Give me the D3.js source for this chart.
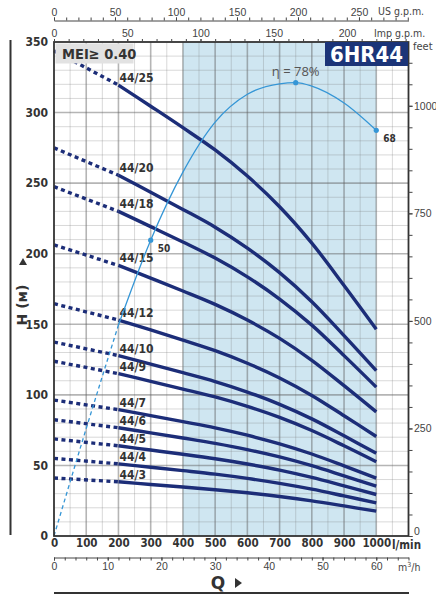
<!DOCTYPE html>
<html>
<head>
<meta charset="utf-8">
<script src="https://cdn.jsdelivr.net/npm/d3@7"></script>
<style>
  body { margin: 0; background: #fff; }
  svg { display: block; font-family: "DejaVu Sans Condensed", "DejaVu Sans", sans-serif; }
</style>
</head>
<body>
<div id="chart"></div>
<script>
// pump curves 6HR44 - H (m) vs Q (l/min)
var flow = [0, 200, 300, 400, 500, 600, 700, 800, 900, 1000];

var models = ["44/25", "44/20", "44/18", "44/15", "44/12", "44/10", "44/9", "44/7", "44/6", "44/5", "44/4", "44/3"];
var h44_25 = [343.8, 319.5, 304.5, 289.3, 273.5, 255.0, 233.3, 207.5, 177.5, 146.5];
var h44_20 = [275.0, 255.6, 243.6, 231.4, 218.8, 204.0, 186.6, 166.0, 142.0, 117.2];
var h44_18 = [247.5, 230.0, 219.2, 208.3, 196.9, 183.6, 167.9, 149.4, 127.8, 105.5];
var h44_15 = [206.3, 191.7, 182.7, 173.6, 164.1, 153.0, 140.0, 124.5, 106.5, 87.9];
var h44_12 = [164.6, 153.0, 146.0, 138.8, 131.3, 122.4, 112.0, 99.6, 85.2, 70.5];
var h44_10 = [137.4, 127.8, 121.8, 115.7, 109.4, 102.0, 93.3, 83.0, 71.0, 58.6];
var h44_9 = [123.8, 115.0, 109.6, 104.1, 98.5, 91.8, 84.0, 74.7, 63.9, 52.6];
var h44_7 = [96.3, 89.5, 85.3, 81.0, 76.6, 71.4, 65.3, 58.1, 49.7, 41.0];
var h44_6 = [82.4, 76.7, 73.1, 69.4, 65.6, 61.2, 56.0, 49.8, 42.6, 35.3];
var h44_5 = [68.8, 63.9, 60.9, 57.9, 54.7, 51.0, 46.7, 41.5, 35.5, 29.4];
var h44_4 = [55.0, 51.1, 48.7, 46.3, 43.8, 40.8, 37.3, 33.2, 28.4, 23.5];
var h44_3 = [41.1, 38.4, 36.5, 34.7, 32.8, 30.6, 28.0, 24.9, 21.3, 17.6];
var heads = [h44_25, h44_20, h44_18, h44_15, h44_12, h44_10, h44_9, h44_7, h44_6, h44_5, h44_4, h44_3];

// efficiency curve (%)
var etaFlow = [0, 100, 200, 300, 400, 500, 600, 700, 750, 800, 900, 1000];
var etaVals = [0, 18.5, 36.3, 50.9, 62.6, 71.2, 76.0, 77.8, 78.0, 77.4, 74.5, 69.8];
var etaMarkFlow = [300, 750, 1000];
var etaMarkText = ["50", "\u03b7 = 78%", "68"];

var hTicks = [0, 50, 100, 150, 200, 250, 300, 350];
var qTicks = [0, 100, 200, 300, 400, 500, 600, 700, 800, 900, 1000];
var feetTicks = [0, 250, 500, 750, 1000];
var usTicks = [0, 50, 100, 150, 200, 250];
var impTicks = [0, 50, 100, 150, 200];
var m3hTicks = [0, 10, 20, 30, 40, 50, 60];

var svgWidth = 436, svgHeight = 600;
var navy = "#1c2d78";
var effBlue = "#3596d6";

var svg = d3.select("#chart").append("svg")
    .attr("width", svgWidth)
    .attr("height", svgHeight);

var x = d3.scaleLinear().domain([0, 1100]).range([54, 408.5]);
var y = d3.scaleLinear().domain([0, 350]).range([536, 42]);

// blue working range
svg.append("rect")
    .attr("x", x(400)).attr("y", y(350))
    .attr("width", x(1000) - x(400)).attr("height", y(0) - y(350))
    .attr("fill", "#cfe6f1");

// grid
var grid = svg.append("g");
grid.selectAll(".vg").data(d3.range(50, 1100, 50)).enter().append("line")
    .attr("x1", d => x(d)).attr("x2", d => x(d))
    .attr("y1", y(0)).attr("y2", y(350))
    .attr("stroke", d => d % 100 == 0 ? "rgba(90,90,90,0.45)" : "rgba(120,120,120,0.28)")
    .attr("stroke-width", d => d % 100 == 0 ? 1.6 : 1);
grid.selectAll(".hg").data(d3.range(10, 350, 10)).enter().append("line")
    .attr("x1", x(0)).attr("x2", x(1100))
    .attr("y1", d => y(d)).attr("y2", d => y(d))
    .attr("stroke", d => d % 50 == 0 ? "rgba(90,90,90,0.45)" : "rgba(120,120,120,0.28)")
    .attr("stroke-width", d => d % 50 == 0 ? 1.6 : 1);

// pump curves
var line = d3.line().x(d => x(d.q)).y(d => y(d.h)).curve(d3.curveCatmullRom);
var curves = models.map(function (m, i) {
    return { name: m, pts: flow.map((q, j) => ({ q: q, h: heads[i][j] })) };
});

var cg = svg.append("g");
curves.forEach(function (c) {
    cg.append("path")
        .attr("d", line(c.pts.slice(0, 2)))
        .attr("fill", "none").attr("stroke", navy)
        .attr("stroke-width", 3.4).attr("stroke-dasharray", "4,3.5");
    cg.append("path")
        .attr("d", line(c.pts.slice(1)))
        .attr("fill", "none").attr("stroke", navy)
        .attr("stroke-width", 3.4);
    cg.append("text")
        .attr("x", x(200) + 1).attr("y", y(c.pts[1].h) - 3)
        .attr("font-size", 12).attr("font-weight", "bold").attr("fill", "#333")
        .text(c.name);
});

// efficiency curve, drawn on its own scale over the H axis
var etaY = d3.scaleLinear().domain([0, 100]).range([y(0), y(411.8)]);
var etaLine = d3.line().x(d => x(d.q)).y(d => etaY(d.e)).curve(d3.curveMonotoneX);
var etaPts = etaFlow.map((q, i) => ({ q: q, e: etaVals[i] }));
svg.append("path")
    .attr("d", etaLine(etaPts.filter(d => d.q <= 200)))
    .attr("fill", "none").attr("stroke", effBlue).attr("stroke-width", 1.3)
    .attr("stroke-dasharray", "4,3");
svg.append("path")
    .attr("d", etaLine(etaPts.filter(d => d.q >= 200)))
    .attr("fill", "none").attr("stroke", effBlue).attr("stroke-width", 1.3);

etaMarkFlow.forEach(function (q, i) {
    var e = etaVals[etaFlow.indexOf(q)];
    svg.append("circle").attr("cx", x(q)).attr("cy", etaY(e)).attr("r", 2.6).attr("fill", effBlue);
    var t = svg.append("text").text(etaMarkText[i]).attr("fill", "#333");
    if (i == 1) {
        t.attr("x", x(q)).attr("y", etaY(e) - 7).attr("text-anchor", "middle")
            .attr("font-size", 13).attr("font-family", "Open Sans, sans-serif").attr("fill", "#555");
    } else {
        t.attr("x", x(q) + 7).attr("y", etaY(e) + 12).attr("font-size", 10).attr("font-weight", "bold");
    }
});

// frame
svg.append("rect")
    .attr("x", x(0)).attr("y", y(350))
    .attr("width", x(1100) - x(0)).attr("height", y(0) - y(350))
    .attr("fill", "none").attr("stroke", "#333").attr("stroke-width", 1.8);

// MEI box + model box
svg.append("rect").attr("x", 55.5).attr("y", 43.5).attr("width", 78).attr("height", 20).attr("fill", "#e2e2e2");
svg.append("text").attr("x", 62).attr("y", 59).attr("font-size", 14.5).attr("font-weight", "bold")
    .attr("fill", "#333").text("MEI\u2265 0.40");
svg.append("rect").attr("x", 325).attr("y", 42).attr("width", 83).attr("height", 24).attr("fill", "#1b3478");
svg.append("text").attr("x", 366.5).attr("y", 62).attr("text-anchor", "middle")
    .attr("font-size", 22).attr("font-weight", "bold")
    .attr("fill", "#fff").text("6HR44");

// left axis (m)
var leftAxis = d3.axisLeft(y).tickValues(hTicks).tickSize(0).tickPadding(6);
var la = svg.append("g").attr("transform", "translate(" + x(0) + ",0)").call(leftAxis);
la.select(".domain").remove();
la.selectAll("text").attr("font-size", 12).attr("font-weight", "bold").attr("fill", "#333")
    .attr("font-family", "DejaVu Sans Condensed, sans-serif");

// bottom axis (l/min)
var bottomAxis = d3.axisBottom(x).tickValues(qTicks).tickSize(0).tickPadding(3).tickFormat(d3.format("d"));
var ba = svg.append("g").attr("transform", "translate(0," + y(0) + ")").call(bottomAxis);
ba.select(".domain").remove();
ba.selectAll("text").attr("font-size", 11.5).attr("font-weight", "bold").attr("fill", "#333")
    .attr("font-family", "DejaVu Sans Condensed, sans-serif");
svg.append("text").attr("x", 392).attr("y", 549).attr("font-size", 11.5).attr("font-weight", "bold")
    .attr("fill", "#333").text("l/min");

// right axis (feet)
var yFt = d3.scaleLinear().domain([0, 350 * 3.28084]).range([536, 42]);
var rightMinor = d3.axisRight(yFt).tickValues(d3.range(0, 1150, 50)).tickSize(4).tickFormat("");
svg.append("g").attr("transform", "translate(" + x(1100) + ",0)").call(rightMinor)
    .call(g => g.select(".domain").remove());
var rightAxis = d3.axisRight(yFt).tickValues(feetTicks).tickSize(4).tickPadding(1.5).tickFormat(d3.format("d"));
var ra = svg.append("g").attr("transform", "translate(" + x(1100) + ",0)").call(rightAxis);
ra.select(".domain").remove();
ra.selectAll("text").attr("font-size", 10.5).attr("fill", "#444");
// lift the 0 so it clears "l/min"
ra.selectAll("text").filter(d => d == 0).attr("dy", "-0.15em");
svg.selectAll(".tick line").attr("stroke", "#444");
svg.append("text").attr("x", 413).attr("y", 50).attr("font-size", 11).attr("fill", "#444").text("feet");

// top axes (US g.p.m., Imp g.p.m.)
var xUS = d3.scaleLinear().domain([0, 1100 / 3.78541]).range([54, 408.5]);
var xImp = d3.scaleLinear().domain([0, 1100 / 4.54609]).range([54, 408.5]);
function smallAxis(g, scale, minor, ticks, axisFn, ypos, showLine) {
    var a1 = g.append("g").attr("transform", "translate(0," + ypos + ")")
        .call(axisFn(scale).tickValues(minor).tickSize(3).tickSizeOuter(0).tickFormat(""));
    a1.select(".domain").attr("stroke", showLine ? "#444" : "none");
    a1.selectAll("line").attr("stroke", "#444");
    var a2 = g.append("g").attr("transform", "translate(0," + ypos + ")")
        .call(axisFn(scale).tickValues(ticks).tickSize(3).tickPadding(2));
    a2.select(".domain").remove();
    a2.selectAll("line").attr("stroke", "#444");
    a2.selectAll("text").attr("font-size", 10.5).attr("fill", "#444");
}
smallAxis(svg, xUS, d3.range(0, 291, 10), usTicks, d3.axisTop, 20.5, true);
svg.append("text").attr("x", 378).attr("y", 15).attr("font-size", 10.5).attr("fill", "#444").text("US g.p.m.");
smallAxis(svg, xImp, d3.range(0, 241, 10), impTicks, d3.axisTop, 42, false);
svg.append("text").attr("x", 374).attr("y", 37).attr("font-size", 10.5).attr("fill", "#444").text("Imp g.p.m.");

// bottom m3/h
var xM3 = d3.scaleLinear().domain([0, 66]).range([54, 408.5]);
smallAxis(svg, xM3, d3.range(0, 67, 2), m3hTicks, d3.axisBottom, 557.5, true);
svg.append("text").attr("x", 398).attr("y", 571).attr("font-size", 10.5).attr("fill", "#444")
    .html('m<tspan dy="-4" font-size="7">3</tspan><tspan dy="4">/h</tspan>');

// axis titles
svg.append("text").attr("x", 0).attr("y", 0)
    .attr("transform", "translate(27,305) rotate(-90)")
    .attr("text-anchor", "middle").attr("font-size", 14).attr("font-weight", "bold").attr("fill", "#333")
    .attr("font-family", "DejaVu Sans, sans-serif")
    .text("H (\u043c)");
svg.append("path").attr("d", "M19,265 L23,258 L27,265 Z").attr("fill", "#333");
svg.append("line").attr("x1", 10.5).attr("x2", 10.5).attr("y1", 40).attr("y2", 535)
    .attr("stroke", "#333").attr("stroke-width", 2);

svg.append("text").attr("x", 218).attr("y", 589).attr("text-anchor", "middle")
    .attr("font-size", 17).attr("font-weight", "bold").attr("fill", "#333")
    .attr("font-family", "DejaVu Sans, sans-serif").text("Q");
svg.append("path").attr("d", "M235,578 L242,583 L235,588 Z").attr("fill", "#333");
svg.append("line").attr("x1", 54).attr("x2", 409).attr("y1", 593).attr("y2", 593)
    .attr("stroke", "#333").attr("stroke-width", 2);
</script>
</body>
</html>
